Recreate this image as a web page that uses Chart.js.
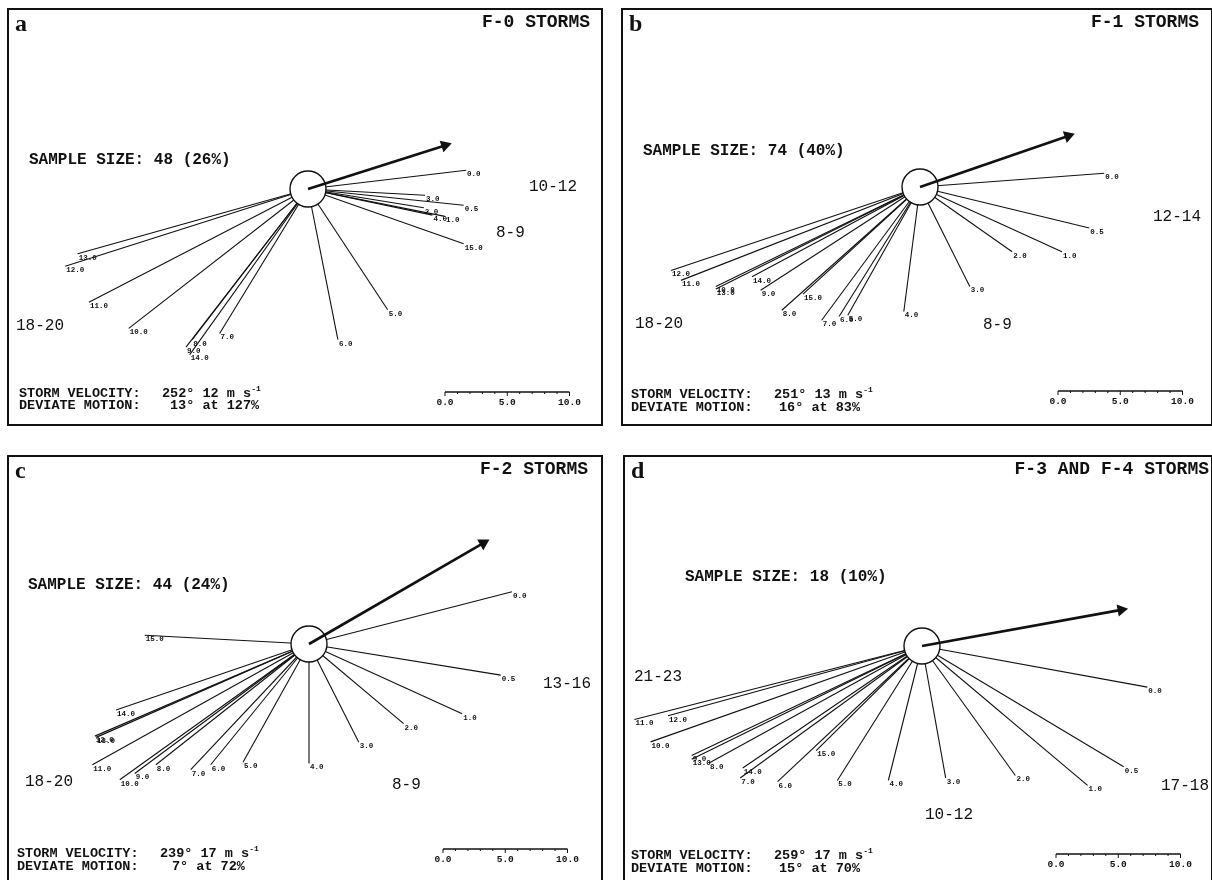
<!DOCTYPE html>
<html>
<head>
<meta charset="utf-8">
<script src="https://cdn.jsdelivr.net/npm/chart.js@4.4.1/dist/chart.umd.min.js"></script>
<style>
body{margin:0;background:#fff;width:1212px;height:880px;overflow:hidden;position:relative;font-family:"Liberation Mono",monospace;color:#111}
.box{position:absolute;border:2px solid #111;box-sizing:border-box}
.wrap{position:absolute}
.t{position:absolute;white-space:pre;line-height:1;transform:translateY(-50%)}
.letter{font-family:"Liberation Serif",serif;font-weight:bold;font-size:24px}
.title{font-weight:bold;font-size:18px}
.sample{font-weight:bold;font-size:16px}
.sector{font-size:16px}
.foot{font-weight:bold;font-size:13.5px}
.foot sup{font-size:8px;vertical-align:6px;line-height:0}
</style>
</head>
<body>
<script>
// wind vectors (m/s) relative to the storm, one per height (km)
const heights = ['0.0','0.5','1.0','2.0','3.0','4.0','5.0','6.0','7.0','8.0','9.0','10.0','11.0','12.0','13.0','14.0','15.0']

const uA = [12.7,12.5,11.0,9.3,9.4,10.0,6.4,2.4,-7.1,-9.3,-9.8,-14.4,-17.6,-19.5,-18.5,-9.5,12.5]
const vA = [1.5,-1.3,-2.2,-1.5,-0.5,-2.1,-9.7,-12.1,-11.6,-12.1,-12.7,-11.2,-9.1,-6.2,-5.2,-13.3,-4.4]
const uB = [14.8,13.6,11.4,7.4,4.0,-1.3,-5.8,-6.5,-7.9,-11.1,-12.8,-16.4,-19.2,-20.0,-16.4,-13.5,-9.4]
const vB = [1.1,-3.3,-5.2,-5.2,-8.0,-10.0,-10.3,-10.4,-10.7,-9.9,-8.3,-8.0,-7.5,-6.7,-8.2,-7.2,-8.6]
const uC = [16.3,15.4,12.3,7.6,4.0,0.0,-5.3,-7.9,-9.5,-12.3,-14.0,-15.2,-17.4,-17.2,-17.1,-15.5,-13.2]
const vC = [4.2,-2.5,-5.6,-6.4,-7.9,-9.6,-9.5,-9.7,-10.1,-9.7,-10.4,-10.9,-9.7,-7.4,-7.5,-5.3,0.7]
const uD = [18.1,16.2,13.3,7.5,1.9,-2.7,-6.8,-11.6,-14.6,-17.1,-18.5,-21.8,-23.1,-20.4,-18.5,-14.4,-8.5]
const vD = [-3.3,-9.7,-11.2,-10.4,-10.6,-10.8,-10.8,-10.9,-10.6,-9.4,-8.8,-7.7,-5.9,-5.6,-9.1,-9.8,-8.4]

// storm motion vector (the thick arrow)
const stormU = [11.0,11.9,14.0,16.0]
const stormV = [3.5,4.1,8.1,2.9]

// scale bar ticks (m/s)
const scaleTicks = [0,5,10]

const panelLetters = ['a','b','c','d']
const panelTitles = ['F-0 STORMS','F-1 STORMS','F-2 STORMS','F-3 AND F-4 STORMS']
const sampleSizes = ['SAMPLE SIZE: 48 (26%)','SAMPLE SIZE: 74 (40%)','SAMPLE SIZE: 44 (24%)','SAMPLE SIZE: 18 (10%)']
const sectorLabels = [['10-12','8-9','18-20'],['12-14','8-9','18-20'],['13-16','8-9','18-20'],['21-23','17-18','10-12']]
const stormVelocity = ['252° 12 m s<sup>-1</sup>','251° 13 m s<sup>-1</sup>','239° 17 m s<sup>-1</sup>','259° 17 m s<sup>-1</sup>']
const deviateMotion = ['13° at 127%','16° at 83%','7° at 72%','15° at 70%']

const U = [uA,uB,uC,uD]
const V = [vA,vB,vC,vD]

// ---- layout (page pixels) ----
const PPU = 12.45   // pixels per m/s
const boxes = [
  {l:7, t:8, r:603, b:426},
  {l:621, t:8, r:1213, b:426},
  {l:7, t:455, r:603, b:895},
  {l:623, t:455, r:1213, b:895}
]
const centers = [[308,189],[920,187],[309,644],[922,646]]
const sectorPos = [
  [[529,187],[496,233],[16,326]],
  [[1153,217],[983,325],[635,324]],
  [[543,684],[392,785],[25,782]],
  [[634,677],[1161,786],[925,815]]
]
const samplePos = [[29,160],[643,151],[28,585],[685,577]]
const footPos = [ // label x, value1 x, value2 x, y1, y2
  [19,162,170,394,406],
  [631,774,779,395,408],
  [17,160,172,854,867],
  [631,774,779,856,869]
]
const titleInset = [13,14,15,4]
const scalePos = [[445,392],[1058,391],[443,849],[1056,854]]

function addText(cls, html, x, y, right) {
  const d = document.createElement('div')
  d.className = 't ' + cls
  d.innerHTML = html
  if (right) d.style.right = (1212 - x) + 'px'
  else d.style.left = x + 'px'
  d.style.top = y + 'px'
  document.body.appendChild(d)
}

const panelPlugin = {
  id: 'panelExtras',
  afterDatasetsDraw(chart, args, opts) {
    const ctx = chart.ctx
    const sx = chart.scales.x, sy = chart.scales.y
    const u = opts.u, v = opts.v
    ctx.save()
    ctx.fillStyle = '#111'
    ctx.font = 'bold 7.5px "Liberation Mono", monospace'
    ctx.textAlign = 'left'
    ctx.textBaseline = 'middle'
    heights.forEach((h, k) => {
      const px = sx.getPixelForValue(u[k]), py = sy.getPixelForValue(v[k])
      ctx.fillText(h, px + 1, py + 4)
    })
    // scale bar
    const unit = sx.getPixelForValue(1) - sx.getPixelForValue(0)
    const x0 = opts.bar[0] - opts.origin[0]
    const y0 = opts.bar[1] - opts.origin[1]
    ctx.strokeStyle = '#111'
    ctx.lineWidth = 1.6
    ctx.beginPath()
    ctx.moveTo(x0, y0); ctx.lineTo(x0 + 10 * unit, y0)
    ctx.stroke()
    ctx.lineWidth = 1
    for (let s = 0; s <= 10; s++) {
      const len = scaleTicks.includes(s) ? 4 : 2
      ctx.beginPath()
      ctx.moveTo(x0 + s * unit, y0); ctx.lineTo(x0 + s * unit, y0 + len)
      ctx.stroke()
    }
    ctx.font = 'bold 9.5px "Liberation Mono", monospace'
    ctx.textAlign = 'center'
    scaleTicks.forEach(s => ctx.fillText(s.toFixed(1), x0 + s * unit, y0 + 11))
    ctx.restore()
  }
}

for (let i = 0; i < 4; i++) {
  const box = boxes[i]
  const w = box.r - box.l, h = box.b - box.t
  const frame = document.createElement('div')
  frame.className = 'box'
  frame.style.cssText = `left:${box.l}px;top:${box.t}px;width:${w}px;height:${h}px`
  document.body.appendChild(frame)
  const wrap = document.createElement('div')
  wrap.className = 'wrap'
  wrap.style.cssText = `left:${box.l}px;top:${box.t}px;width:${w}px;height:${h}px`
  const cv = document.createElement('canvas')
  wrap.appendChild(cv)
  document.body.appendChild(wrap)

  const c = centers[i]
  const xmin = -(c[0] - box.l) / PPU
  const ymax = (c[1] - box.t) / PPU

  const rays = heights.map((lab, k) => ({
    data: [{x: 0, y: 0}, {x: U[i][k], y: V[i][k]}],
    showLine: true, borderColor: '#111', borderWidth: 1.1, pointRadius: 0, order: 3
  }))
  const hub = {
    data: [{x: 0, y: 0}], pointRadius: 18, pointBackgroundColor: '#fff',
    pointBorderColor: '#111', pointBorderWidth: 1.4, order: 2
  }
  const rot = Math.atan2(stormU[i], stormV[i]) * 180 / Math.PI
  const arrow = {
    data: [{x: 0, y: 0}, {x: stormU[i], y: stormV[i]}],
    showLine: true, borderColor: '#111', borderWidth: 2.6,
    pointRadius: [0, 4.5], pointStyle: 'triangle', pointRotation: [0, rot],
    pointBackgroundColor: '#111', pointBorderColor: '#111', order: 1
  }

  new Chart(cv, {
    type: 'scatter',
    data: {datasets: [...rays, hub, arrow]},
    options: {
      responsive: true, maintainAspectRatio: false, animation: false,
      layout: {padding: 0, autoPadding: false},
      scales: {
        x: {type: 'linear', display: false, min: xmin, max: xmin + w / PPU},
        y: {type: 'linear', display: false, min: ymax - h / PPU, max: ymax}
      },
      plugins: {
        legend: {display: false}, tooltip: {enabled: false},
        panelExtras: {u: U[i], v: V[i], bar: scalePos[i], origin: [box.l, box.t]}
      }
    },
    plugins: [panelPlugin]
  })

  addText('letter', panelLetters[i], box.l + 8, box.t + 15)
  addText('title', panelTitles[i], box.r - titleInset[i], box.t + 14, true)
  addText('sample', sampleSizes[i], samplePos[i][0], samplePos[i][1])
  sectorLabels[i].forEach((s, k) => addText('sector', s, sectorPos[i][k][0], sectorPos[i][k][1]))
  const f = footPos[i]
  addText('foot', 'STORM VELOCITY:', f[0], f[3])
  addText('foot', stormVelocity[i], f[1], f[3])
  addText('foot', 'DEVIATE MOTION:', f[0], f[4])
  addText('foot', deviateMotion[i], f[2], f[4])
}
</script>
</body>
</html>
